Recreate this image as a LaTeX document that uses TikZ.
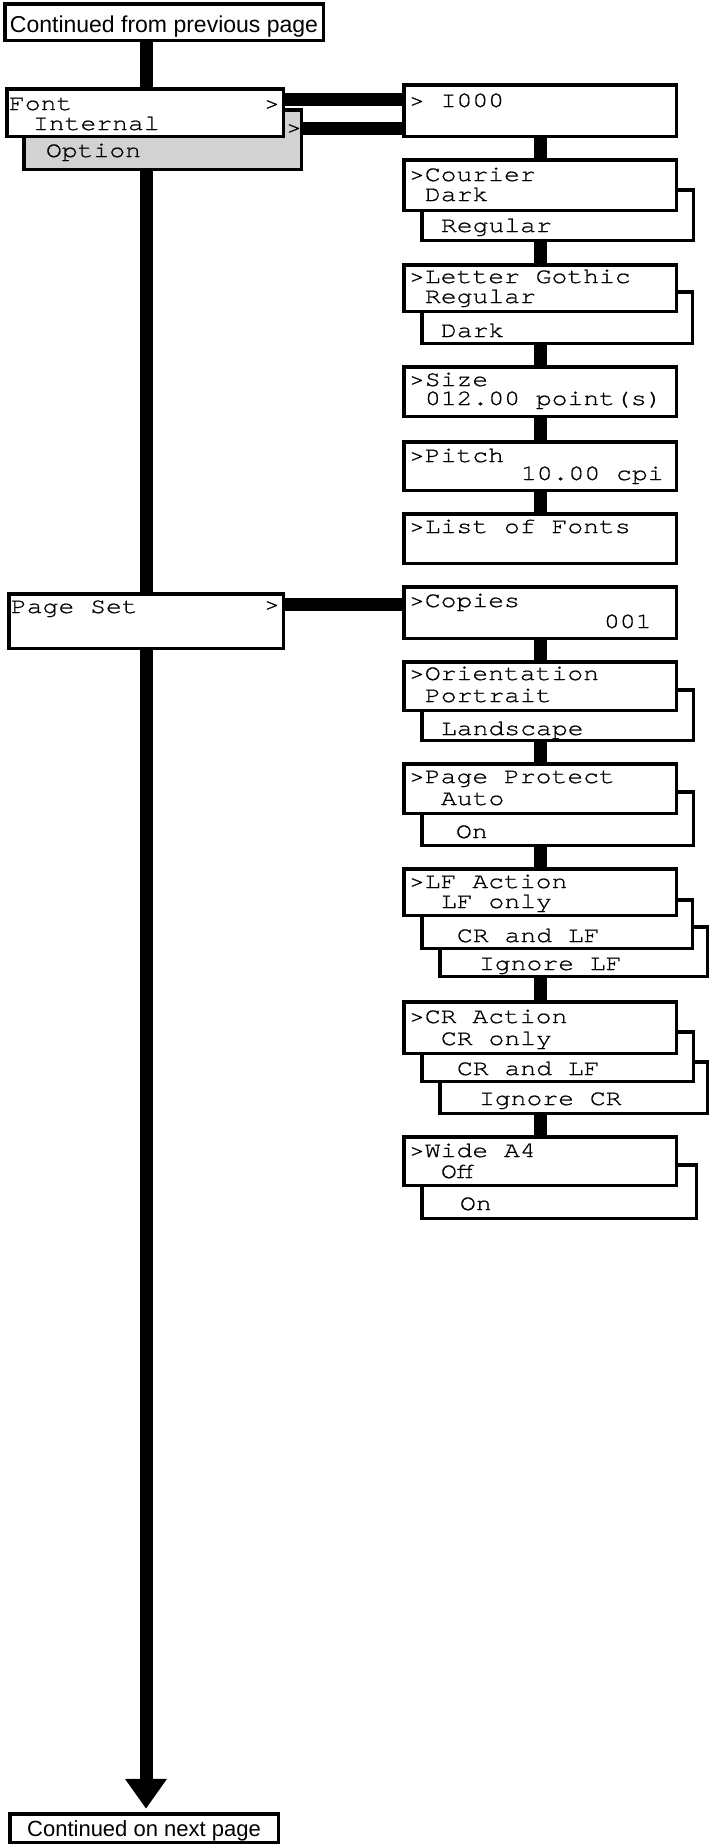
\documentclass[tikz,border=0pt]{standalone}
\usepackage{fontspec}
\newfontfamily\lcd{texgyrecursor-regular}[Extension=.otf,FakeStretch=1.2,FakeBold=0.8]
\newfontfamily\hv{Liberation Sans}
\usetikzlibrary{arrows.meta}
\pgfdeclarelayer{background}
\pgfsetlayers{background,main}
\newcommand\rbox[6]{%
  \node[bx,#6,anchor=north west,minimum width={(#4)-(#2)-3.5},minimum height={(#5)-(#3)-3.5}] (#1) at ({#2+1.75},{#3+1.75}) {};}
\begin{document}
\begin{tikzpicture}[x=1pt,y=-1pt,
  bx/.style={draw=black,line width=3.5pt,fill=white,inner sep=0pt,outer sep=0pt},
  tx/.style={anchor=base west,inner sep=0pt,outer sep=0pt,font=\lcd\fontsize{22}{22}\selectfont},
  sx/.style={anchor=base,inner sep=0pt,outer sep=0pt},
  conn/.style={line width=13pt,draw=black}]
\useasboundingbox (0,0) rectangle (709,1845);
% left column
\rbox{top}{3}{2}{325}{42}{}
\rbox{bot}{8}{1812}{280}{1844}{}
\rbox{opt}{22}{108}{303}{171}{fill=gray!35}
\rbox{font}{5}{87}{285}{138}{}
\rbox{pset}{7}{592}{285}{650}{}
% right column
\rbox{i000}{402}{83}{678}{138}{}
\rbox{courB}{420}{188}{695}{242}{}
\rbox{cour}{402}{158}{678}{212}{}
\rbox{lgB}{420}{290}{694}{345}{}
\rbox{lg}{402}{263}{678}{313}{}
\rbox{size}{402}{365}{678}{418}{}
\rbox{pitch}{402}{440}{678}{492}{}
\rbox{list}{402}{512}{678}{565}{}
\rbox{copies}{402}{585}{678}{640}{}
\rbox{orB}{420}{688}{695}{742}{}
\rbox{or}{402}{660}{678}{712}{}
\rbox{ppB}{420}{790}{695}{847}{}
\rbox{pp}{402}{762}{678}{815}{}
\rbox{lfC}{438}{925}{709}{978}{}
\rbox{lfB}{420}{898}{694}{950}{}
\rbox{lf}{402}{867}{678}{917}{}
\rbox{crC}{438}{1060}{709}{1115}{}
\rbox{crB}{420}{1030}{695}{1083}{}
\rbox{cr}{402}{1000}{678}{1055}{}
\rbox{waB}{420}{1163}{698}{1220}{}
\rbox{wa}{402}{1135}{678}{1187}{}
% connectors
\begin{pgfonlayer}{background}
\draw[conn,-{Triangle[width=40pt,length=30pt]},shorten >=5pt] (top.south -| 146,0) -- (bot.north -| 146,0);
\draw[conn] (font.east |- 0,99.5) -- (i000.west |- 0,99.5);
\draw[conn] (opt.east |- 0,128.5) -- (i000.west |- 0,128.5);
\draw[conn] (pset.east |- 0,604) -- (copies.west |- 0,604);
\draw[conn] (i000.south -| 540,0) -- (cour.north -| 540,0);
\draw[conn] (courB.south -| 540,0) -- (lg.north -| 540,0);
\draw[conn] (lgB.south -| 540,0) -- (size.north -| 540,0);
\draw[conn] (size.south -| 540,0) -- (pitch.north -| 540,0);
\draw[conn] (pitch.south -| 540,0) -- (list.north -| 540,0);
\draw[conn] (copies.south -| 540,0) -- (or.north -| 540,0);
\draw[conn] (orB.south -| 540,0) -- (pp.north -| 540,0);
\draw[conn] (ppB.south -| 540,0) -- (lf.north -| 540,0);
\draw[conn] (lfC.south -| 540,0) -- (cr.north -| 540,0);
\draw[conn] (crC.south -| 540,0) -- (wa.north -| 540,0);
\end{pgfonlayer}
% texts
\node[sx,font=\hv\fontsize{23}{23}\selectfont] (ttop) at (164,32) {Continued from previous page};
\node[sx,font=\hv\fontsize{22}{22}\selectfont] (tbot) at (144,1836) {Continued on next page};
\node[tx] (tfont1) at (9,110) {Font};
\node[tx] (tfont2) at (264,110) {>};
\node[tx] (tfont3) at (33,130) {Internal};
\node[tx] (topt1) at (46,157) {Option};
\node[tx] (topt2) at (286,134) {>};
\node[tx] (tps1) at (11,613) {Page Set};
\node[tx] (tps2) at (264,611) {>};
\node[tx] (ti000) at (409,107) {> I000};
\node[tx] (tc1) at (409,181) {>Courier};
\node[tx] (tc2) at (425,201) {Dark};
\node[tx] (tc3) at (441,232) {Regular};
\node[tx] (tl1) at (409,283) {>Letter Gothic};
\node[tx] (tl2) at (425,303) {Regular};
\node[tx] (tl3) at (441,337) {Dark};
\node[tx] (ts1) at (409,386) {>Size};
\node[tx] (ts2) at (425,405) {012.00 point(s)};
\node[tx] (tp1) at (409,462) {>Pitch};
\node[tx] (tp2) at (521,480) {10.00 cpi};
\node[tx] (tli) at (409,533) {>List of Fonts};
\node[tx] (tco1) at (409,607) {>Copies};
\node[tx] (tco2) at (604,628) {001};
\node[tx] (to1) at (409,680) {>Orientation};
\node[tx] (to2) at (425,702) {Portrait};
\node[tx] (to3) at (441,735) {Landscape};
\node[tx] (tpp1) at (409,783) {>Page Protect};
\node[tx] (tpp2) at (441,805) {Auto};
\node[tx] (tpp3) at (456,838) {On};
\node[tx] (tlf1) at (409,888) {>LF Action};
\node[tx] (tlf2) at (441,908) {LF only};
\node[tx] (tlf3) at (457,942) {CR and LF};
\node[tx] (tlf4) at (479,970) {Ignore LF};
\node[tx] (tcr1) at (409,1023) {>CR Action};
\node[tx] (tcr2) at (441,1045) {CR only};
\node[tx] (tcr3) at (457,1075) {CR and LF};
\node[tx] (tcr4) at (479,1105) {Ignore CR};
\node[tx] (twa1) at (409,1157) {>Wide A4};
\node[tx] (twa2) at (441,1178) {Off};
\node[tx] (twa3) at (460,1210) {On};
\end{tikzpicture}
\end{document}
